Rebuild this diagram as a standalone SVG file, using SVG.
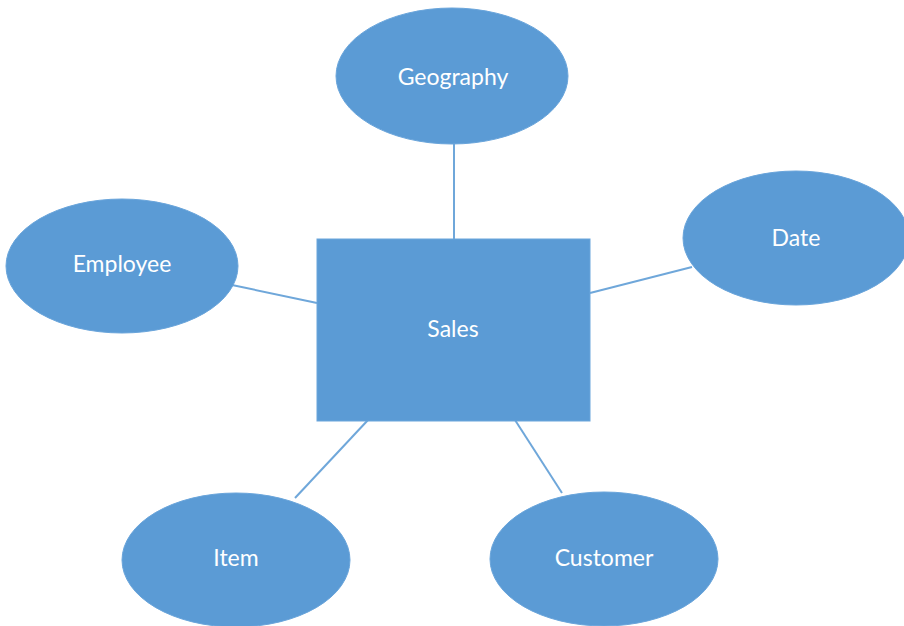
<svg xmlns="http://www.w3.org/2000/svg" width="904" height="626" viewBox="0 0 904 626">
<style>
.n{fill:#5b9bd5;stroke:#6aa5db;stroke-width:1}
.t{fill:#ffffff;font-family:Lato,"Liberation Sans",sans-serif;font-size:23px;text-anchor:middle}
.c line{stroke:#6fa7da;stroke-width:2}
</style>
<rect width="904" height="626" fill="#ffffff"/>
<g class="c" id="connectors">
<line x1="454" y1="144" x2="454" y2="239"/>
<line x1="232" y1="285" x2="317" y2="303"/>
<line x1="590" y1="293" x2="692" y2="267"/>
<line x1="295" y1="498" x2="368" y2="420"/>
<line x1="562" y1="493" x2="515" y2="420"/>
</g>
<g id="geography"><ellipse class="n" cx="452" cy="76" rx="116" ry="68"/><text class="t" x="453" y="85">Geography</text></g>
<g id="date"><ellipse class="n" cx="796" cy="238" rx="113" ry="67"/><text class="t" x="796" y="246">Date</text></g>
<g id="employee"><ellipse class="n" cx="122" cy="266" rx="116" ry="67"/><text class="t" x="122" y="272">Employee</text></g>
<g id="sales"><rect class="n" x="317" y="239" width="273" height="182"/><text class="t" x="453" y="337">Sales</text></g>
<g id="item"><ellipse class="n" cx="236" cy="560" rx="114" ry="67"/><text class="t" x="236" y="566">Item</text></g>
<g id="customer"><ellipse class="n" cx="604" cy="559" rx="114" ry="67"/><text class="t" x="604" y="566">Customer</text></g>
</svg>
